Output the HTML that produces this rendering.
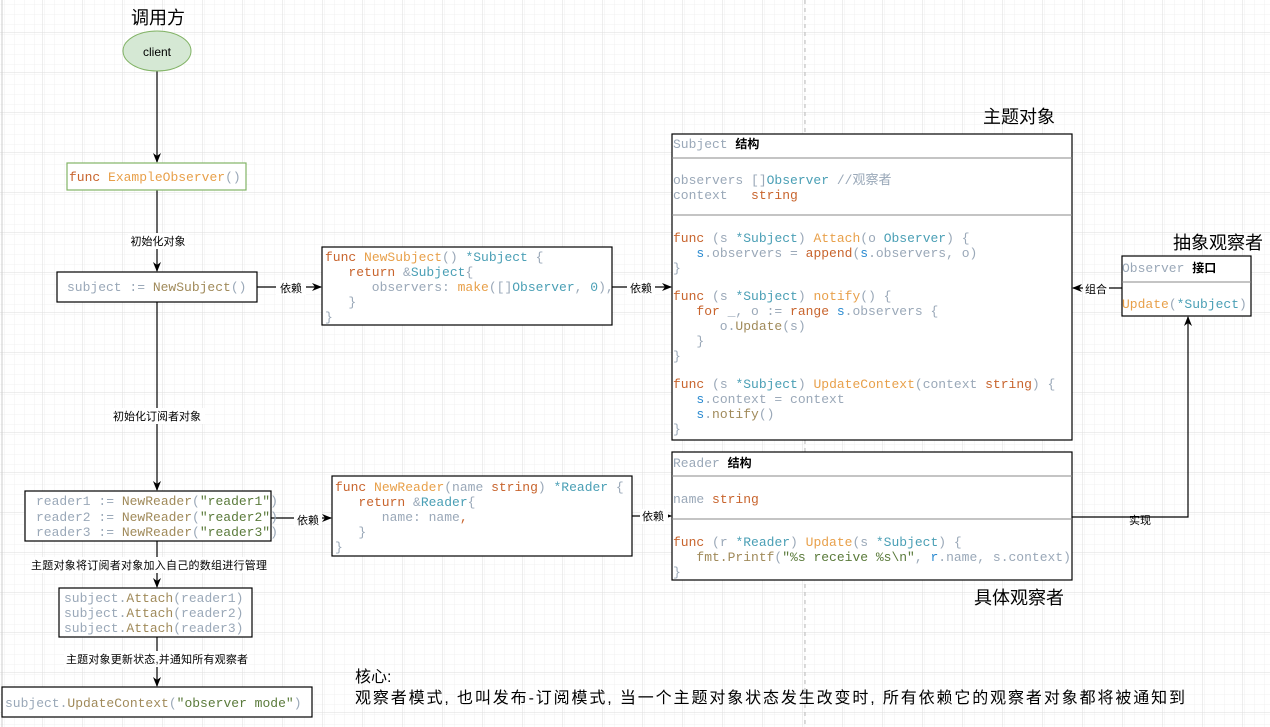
<!DOCTYPE html>
<html><head><meta charset="utf-8"><style>
html,body{margin:0;padding:0;background:#fff;}
svg{display:block;}
text,tspan{white-space:pre;}
.m{font-family:"Liberation Mono",monospace;font-size:13px;}
.c{font-family:"Liberation Sans","Noto Sans CJK SC",sans-serif;}
.g{fill:#9aa8b8}.f{fill:#c8642d}.o{fill:#e8a04a}.t{fill:#4a9fb5}.b{fill:#2a8ad0}.n{fill:#a08a5a}.s{fill:#5a7a3a}
</style></head><body>
<svg width="1270" height="727" viewBox="0 0 1270 727" xmlns="http://www.w3.org/2000/svg">
<defs>
<pattern id="gs" width="10" height="10" patternUnits="userSpaceOnUse" x="2" y="2"><path d="M10 0H0V10" fill="none" stroke="#f0f0f0" stroke-width="1"/></pattern>
<pattern id="gl" width="40" height="40" patternUnits="userSpaceOnUse" x="2" y="-8"><rect width="40" height="40" fill="url(#gs)"/><path d="M40 0H0V40" fill="none" stroke="#dedede" stroke-width="1"/></pattern>
<marker id="a" markerWidth="10" markerHeight="10" refX="9" refY="5" orient="auto" markerUnits="userSpaceOnUse"><path d="M0,1 L10,5 L0,9 L3,5z" fill="#000"/></marker>
</defs>
<rect width="1270" height="727" fill="#fff"/>
<rect width="1270" height="727" fill="url(#gl)"/>
<line x1="2" y1="0" x2="2" y2="727" stroke="#ccc"/>
<line x1="805" y1="0" x2="805" y2="727" stroke="#bbb" stroke-dasharray="4,4"/>

<g stroke="#000" stroke-width="1.2" fill="none">
<line x1="157" y1="71" x2="157" y2="162" marker-end="url(#a)"/>
<line x1="157" y1="190" x2="157" y2="271" marker-end="url(#a)"/>
<line x1="157" y1="302" x2="157" y2="490" marker-end="url(#a)"/>
<line x1="157" y1="541" x2="157" y2="587" marker-end="url(#a)"/>
<line x1="157" y1="637" x2="157" y2="686" marker-end="url(#a)"/>
<line x1="257" y1="287" x2="321" y2="287" marker-end="url(#a)"/>
<line x1="612" y1="287" x2="671" y2="287" marker-end="url(#a)"/>
<line x1="1122" y1="288" x2="1073" y2="288" marker-end="url(#a)"/>
<line x1="271" y1="518" x2="331" y2="518" marker-end="url(#a)"/>
<line x1="632" y1="516" x2="671" y2="516" marker-end="url(#a)"/>
<polyline points="1072,517 1188,517 1188,317" marker-end="url(#a)"/>
</g>

<g class="c" font-size="11" fill="#000" text-anchor="middle">
<rect x="128" y="233" width="60" height="16" fill="#fff"/><text x="158" y="245">初始化对象</text>
<rect x="276" y="280" width="30" height="15" fill="#fff"/><text x="291" y="292">依赖</text>
<rect x="627" y="280" width="28" height="15" fill="#fff"/><text x="641" y="292">依赖</text>
<rect x="1083" y="281" width="26" height="15" fill="#fff"/><text x="1096" y="293">组合</text>
<rect x="110" y="408" width="95" height="16" fill="#fff"/><text x="157" y="420">初始化订阅者对象</text>
<rect x="294" y="512" width="28" height="15" fill="#fff"/><text x="308" y="524">依赖</text>
<rect x="640" y="509" width="28" height="15" fill="#fff"/><text x="653" y="520">依赖</text>
<rect x="1126" y="518" width="28" height="12" fill="#fff"/><text x="1140" y="524">实现</text>
<rect x="30" y="557" width="238" height="16" fill="#fff"/><text x="149" y="569" textLength="236">主题对象将订阅者对象加入自己的数组进行管理</text>
<rect x="64" y="651" width="185" height="16" fill="#fff"/><text x="157" y="663" textLength="182">主题对象更新状态,并通知所有观察者</text>
</g>

<g class="c" font-size="18" fill="#000">
<text x="131" y="24">调用方</text>
<text x="983" y="123">主题对象</text>
<text x="1173" y="249">抽象观察者</text>
<text x="974" y="604">具体观察者</text>
<text x="355" y="682" font-size="16">核心:</text>
<text x="355" y="703" font-size="16" textLength="830">观察者模式, 也叫发布-订阅模式, 当一个主题对象状态发生改变时, 所有依赖它的观察者对象都将被通知到</text>
</g>

<ellipse cx="157" cy="51" rx="34" ry="20" fill="#d5e8d4" stroke="#82b366"/>
<text x="157" y="56" class="c" font-size="12" text-anchor="middle">client</text>

<g fill="#fff" stroke="#000" stroke-width="1.2">
<rect x="67" y="163" width="179" height="27" stroke="#82b366"/>
<rect x="57" y="272" width="200" height="30"/>
<rect x="322" y="247" width="290" height="78"/>
<rect x="672" y="134" width="400" height="306"/>
<rect x="1122" y="256" width="129" height="60"/>
<rect x="672" y="452" width="400" height="128"/>
<rect x="25" y="491" width="246" height="50"/>
<rect x="332" y="476" width="300" height="80"/>
<rect x="59" y="588" width="193" height="49"/>
<rect x="2" y="687" width="310" height="30"/>
</g>
<g stroke="#888" stroke-width="1">
<line x1="672" y1="158" x2="1072" y2="158"/><line x1="672" y1="215" x2="1072" y2="215"/>
<line x1="1122" y1="282" x2="1251" y2="282"/>
<line x1="672" y1="476" x2="1072" y2="476"/><line x1="672" y1="519" x2="1072" y2="519"/>
</g>

<g class="m">
<text x="69" y="181"><tspan class="f">func</tspan> <tspan class="o">ExampleObserver</tspan><tspan class="g">()</tspan></text>
<text x="67" y="291"><tspan class="g">subject := </tspan><tspan class="n">NewSubject</tspan><tspan class="g">()</tspan></text>

<text x="325" y="261"><tspan class="f">func</tspan> <tspan class="o">NewSubject</tspan><tspan class="g">() </tspan><tspan class="t">*Subject</tspan><tspan class="g"> {</tspan></text>
<text x="325" y="276"><tspan class="f">   return</tspan><tspan class="g"> &amp;</tspan><tspan class="t">Subject</tspan><tspan class="g">{</tspan></text>
<text x="325" y="291"><tspan class="g">      observers: </tspan><tspan class="o">make</tspan><tspan class="g">([]</tspan><tspan class="t">Observer</tspan><tspan class="g">, </tspan><tspan class="t">0</tspan><tspan class="g">),</tspan></text>
<text x="325" y="306" class="g">   }</text>
<text x="325" y="321" class="g">}</text>

<text x="673" y="148"><tspan class="g">Subject </tspan><tspan class="c" font-weight="bold" font-size="12" fill="#000">结构</tspan></text>
<text x="673" y="184"><tspan class="g">observers []</tspan><tspan class="t">Observer</tspan><tspan class="g"> //</tspan><tspan class="c g">观察者</tspan></text>
<text x="673" y="199"><tspan class="g">context   </tspan><tspan class="f">string</tspan></text>
<text x="673" y="242"><tspan class="f">func</tspan><tspan class="g"> (s </tspan><tspan class="t">*Subject</tspan><tspan class="g">) </tspan><tspan class="o">Attach</tspan><tspan class="g">(o </tspan><tspan class="t">Observer</tspan><tspan class="g">) {</tspan></text>
<text x="673" y="257"><tspan class="b">   s</tspan><tspan class="g">.observers = </tspan><tspan class="f">append</tspan><tspan class="g">(</tspan><tspan class="b">s</tspan><tspan class="g">.observers, o)</tspan></text>
<text x="673" y="272" class="g">}</text>
<text x="673" y="300"><tspan class="f">func</tspan><tspan class="g"> (s </tspan><tspan class="t">*Subject</tspan><tspan class="g">) </tspan><tspan class="o">notify</tspan><tspan class="g">() {</tspan></text>
<text x="673" y="315"><tspan class="f">   for</tspan><tspan class="g"> _, o := </tspan><tspan class="f">range</tspan><tspan class="b"> s</tspan><tspan class="g">.observers {</tspan></text>
<text x="673" y="330"><tspan class="g">      o.</tspan><tspan class="n">Update</tspan><tspan class="g">(s)</tspan></text>
<text x="673" y="345" class="g">   }</text>
<text x="673" y="360" class="g">}</text>
<text x="673" y="388"><tspan class="f">func</tspan><tspan class="g"> (s </tspan><tspan class="t">*Subject</tspan><tspan class="g">) </tspan><tspan class="o">UpdateContext</tspan><tspan class="g">(context </tspan><tspan class="f">string</tspan><tspan class="g">) {</tspan></text>
<text x="673" y="403"><tspan class="b">   s</tspan><tspan class="g">.context = context</tspan></text>
<text x="673" y="418"><tspan class="b">   s</tspan><tspan class="g">.</tspan><tspan class="n">notify</tspan><tspan class="g">()</tspan></text>
<text x="673" y="433" class="g">}</text>

<text x="1122" y="272"><tspan class="g">Observer </tspan><tspan class="c" font-weight="bold" font-size="12" fill="#000">接口</tspan></text>
<text x="1122" y="308"><tspan class="o">Update</tspan><tspan class="g">(</tspan><tspan class="t">*Subject</tspan><tspan class="g">)</tspan></text>

<text x="673" y="467"><tspan class="g">Reader </tspan><tspan class="c" font-weight="bold" font-size="12" fill="#000">结构</tspan></text>
<text x="673" y="503"><tspan class="g">name </tspan><tspan class="f">string</tspan></text>
<text x="673" y="546"><tspan class="f">func</tspan><tspan class="g"> (r </tspan><tspan class="t">*Reader</tspan><tspan class="g">) </tspan><tspan class="o">Update</tspan><tspan class="g">(s </tspan><tspan class="t">*Subject</tspan><tspan class="g">) {</tspan></text>
<text x="673" y="561"><tspan class="n">   fmt.Printf</tspan><tspan class="g">(</tspan><tspan class="s">"%s receive %s\n"</tspan><tspan class="g">, </tspan><tspan class="b">r</tspan><tspan class="g">.name, s.context)</tspan></text>
<text x="673" y="576" class="g">}</text>

<text x="36" y="505"><tspan class="g">reader1 := </tspan><tspan class="n">NewReader</tspan><tspan class="g">(</tspan><tspan class="s">"reader1"</tspan><tspan class="g">)</tspan></text>
<text x="36" y="521"><tspan class="g">reader2 := </tspan><tspan class="n">NewReader</tspan><tspan class="g">(</tspan><tspan class="s">"reader2"</tspan><tspan class="g">)</tspan></text>
<text x="36" y="536"><tspan class="g">reader3 := </tspan><tspan class="n">NewReader</tspan><tspan class="g">(</tspan><tspan class="s">"reader3"</tspan><tspan class="g">)</tspan></text>

<text x="335" y="491"><tspan class="f">func</tspan> <tspan class="o">NewReader</tspan><tspan class="g">(name </tspan><tspan class="f">string</tspan><tspan class="g">) </tspan><tspan class="t">*Reader</tspan><tspan class="g"> {</tspan></text>
<text x="335" y="506"><tspan class="f">   return</tspan><tspan class="g"> &amp;</tspan><tspan class="t">Reader</tspan><tspan class="g">{</tspan></text>
<text x="335" y="521"><tspan class="g">      name: name</tspan><tspan class="f">,</tspan></text>
<text x="335" y="536" class="g">   }</text>
<text x="335" y="551" class="g">}</text>

<text x="64" y="602"><tspan class="g">subject.</tspan><tspan class="n">Attach</tspan><tspan class="g">(reader1)</tspan></text>
<text x="64" y="617"><tspan class="g">subject.</tspan><tspan class="n">Attach</tspan><tspan class="g">(reader2)</tspan></text>
<text x="64" y="632"><tspan class="g">subject.</tspan><tspan class="n">Attach</tspan><tspan class="g">(reader3)</tspan></text>

<text x="5" y="707"><tspan class="g">subject.</tspan><tspan class="n">UpdateContext</tspan><tspan class="g">(</tspan><tspan class="s">"observer mode"</tspan><tspan class="g">)</tspan></text>
</g>
</svg>
</body></html>
